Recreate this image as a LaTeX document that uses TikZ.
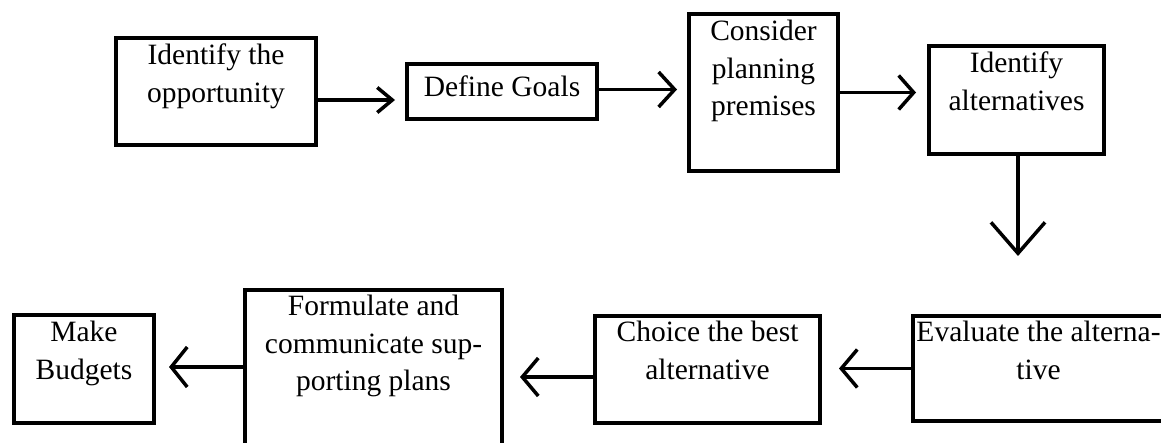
\documentclass[tikz,border=0pt]{standalone}
\usepackage{fontspec}
\setmainfont{Liberation Serif}
\usetikzlibrary{arrows.meta}

\tikzset{
  stepbox/.style={draw, line width=4pt, inner sep=0pt},
  steptext/.style={anchor=north, inner sep=0pt, align=center,
                   font=\fontsize{29.5}{37.5}\selectfont},
  flow/.style={line width=3.5pt, -{Straight Barb[#1]}},
}

\begin{document}
\begin{tikzpicture}[x=1pt,y=-1pt]
  \clip (0,0) rectangle (1161,443);

  % top row, left to right
  \node[stepbox, minimum width=200pt, minimum height=107pt] (B1) at (216,91.5) {};
  \node[stepbox, minimum width=190pt, minimum height=55pt]  (B2) at (502,91.5) {};
  \node[stepbox, minimum width=149pt, minimum height=157pt] (B3) at (763.5,92.5) {};
  \node[stepbox, minimum width=175pt, minimum height=108pt] (B4) at (1016.5,100) {};

  % bottom row, right to left
  \node[stepbox, minimum width=251pt, minimum height=105pt] (B5) at (1038.5,368.5) {};
  \node[stepbox, minimum width=225pt, minimum height=107pt] (B6) at (707.5,369.5) {};
  \node[stepbox, minimum width=257pt, minimum height=172pt] (B7) at (373.5,376) {};
  \node[stepbox, minimum width=140pt, minimum height=108pt] (B8) at (84,369) {};

  % labels
  \node[steptext] (T1) at ([yshift=-8pt]B1.north) {Identify the\\opportunity};
  \node[steptext, anchor=base] (T2) at ([yshift=-5.5pt]B2.center) {Define Goals};
  \node[steptext] (T3) at ([yshift=-8pt]B3.north) {Consider\\planning\\premises};
  \node[steptext] (T4) at ([yshift=-8pt]B4.north) {Identify\\alternatives};
  \node[steptext] (T5) at ([yshift=-7pt]B5.north) {Evaluate the alterna-\\tive};
  \node[steptext] (T6) at ([yshift=-7pt]B6.north) {Choice the best\\alternative};
  \node[steptext] (T7) at ([yshift=-7pt]B7.north) {Formulate and\\communicate sup-\\porting plans};
  \node[steptext] (T8) at ([yshift=-8pt]B8.north) {Make\\Budgets};

  % connector start points
  \coordinate (s1) at ([yshift=-8.5pt]B1.east);
  \coordinate (s2) at ([yshift=2pt]B2.east);
  \coordinate (s3) at (B3.east);
  \coordinate (s4) at ([xshift=1.5pt]B4.south);
  \coordinate (s5) at (B5.west);
  \coordinate (s6) at ([yshift=-7.5pt]B6.west);
  \coordinate (s7) at ([yshift=9pt]B7.west);

  % connectors
  \draw[flow={length=15pt,width=25pt}, shorten >=10pt] (s1) -- (s1 -| B2.west);
  \draw[flow={length=16pt,width=35pt}, shorten >=10pt] (s2) -- (s2 -| B3.west);
  \draw[flow={length=15pt,width=34pt}, shorten >=11pt] (s3) -- (s3 -| B4.west);
  \draw[flow={length=31pt,width=54pt}, shorten >=58pt] (s4) -- (s4 |- B5.north);
  \draw[flow={length=16pt,width=38pt}, shorten >=17pt] (s5) -- (s5 -| B6.east);
  \draw[flow={length=16pt,width=38pt}, shorten >=16pt] (s6) -- (s6 -| B7.east);
  \draw[flow={length=16pt,width=40pt}, shorten >=13pt] (s7) -- (s7 -| B8.east);
\end{tikzpicture}
\end{document}
